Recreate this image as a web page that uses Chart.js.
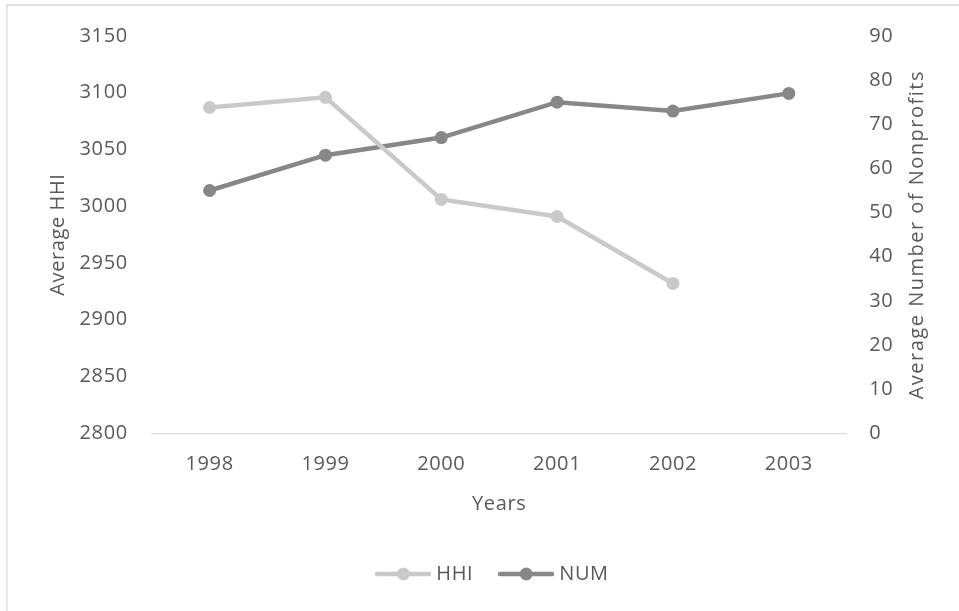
<!DOCTYPE html>
<html>
<head>
<meta charset="utf-8">
<script src="https://cdn.jsdelivr.net/npm/chart.js@4/dist/chart.umd.min.js"></script>
<style>
  html, body { margin: 0; padding: 0; background: #ffffff; }
  #wrap { position: relative; width: 959px; height: 611px; }
</style>
</head>
<body>
<div id="wrap"><canvas id="chart" width="959" height="611"></canvas></div>
<script>
// Years on the horizontal axis
const years = ['1998', '1999', '2000', '2001', '2002', '2003'];
// Average Herfindahl-Hirschman index per year (no value for 2003)
const hhi = [3087, 3096, 3006, 2991, 2932, null];
// Average number of nonprofits per year
const num = [55, 63, 67, 75, 73, 77];
// Axis ranges
const hhiAxis = { min: 2800, max: 3150, step: 50 };
const numAxis = { min: 0, max: 90, step: 10 };

const TEXT = '#595959';
const FONT = "'Open Sans', 'Noto Sans', sans-serif";
const SIZE = 20;
const SPACING = '0.6px';
const HHI_COLOR = '#c9c9c9';
const NUM_COLOR = '#878787';

// Legend swatch: a short line with a dot in the middle
function swatch(color) {
  const c = document.createElement('canvas');
  c.width = 56; c.height = 16;
  const g = c.getContext('2d');
  g.strokeStyle = color; g.lineWidth = 4.5; g.lineCap = 'round';
  g.beginPath(); g.moveTo(2, 8); g.lineTo(54, 8); g.stroke();
  g.fillStyle = color;
  g.beginPath(); g.arc(28, 8, 6.5, 0, Math.PI * 2); g.fill();
  return c;
}

// Slightly wider letter spacing for every label, outer frame lines,
// and the right-hand axis title (reads bottom to top)
const extras = {
  id: 'extras',
  beforeInit(chart) { chart.ctx.letterSpacing = SPACING; },
  beforeUpdate(chart) { chart.ctx.letterSpacing = SPACING; },
  beforeDraw(chart) {
    const ctx = chart.ctx;
    ctx.letterSpacing = SPACING;
    ctx.save();
    ctx.strokeStyle = '#d9d9d9';
    ctx.lineWidth = 1.3;
    ctx.beginPath();
    ctx.moveTo(7, 611); ctx.lineTo(7, 5); ctx.lineTo(959, 5);
    ctx.stroke();
    ctx.restore();
  },
  afterDraw(chart) {
    const ctx = chart.ctx;
    const area = chart.chartArea;
    ctx.save();
    ctx.translate(917, (area.top + area.bottom) / 2);
    ctx.rotate(-Math.PI / 2);
    ctx.fillStyle = TEXT;
    ctx.font = SIZE + 'px ' + FONT;
    ctx.letterSpacing = '1.5px';
    ctx.textAlign = 'center';
    ctx.textBaseline = 'middle';
    ctx.fillText('Average Number of Nonprofits', 0, 0);
    ctx.restore();
  }
};

const plain = v => String(v);

new Chart(document.getElementById('chart'), {
  type: 'line',
  data: {
    labels: years,
    datasets: [
      {
        label: 'HHI', data: hhi, yAxisID: 'y',
        borderColor: HHI_COLOR, backgroundColor: HHI_COLOR,
        borderWidth: 4.5, pointRadius: 6.5, pointHoverRadius: 6.5,
        pointBorderWidth: 0, tension: 0, spanGaps: false
      },
      {
        label: 'NUM', data: num, yAxisID: 'y1',
        borderColor: NUM_COLOR, backgroundColor: NUM_COLOR,
        borderWidth: 4.5, pointRadius: 6.5, pointHoverRadius: 6.5,
        pointBorderWidth: 0, tension: 0
      }
    ]
  },
  options: {
    responsive: false,
    animation: false,
    devicePixelRatio: 1,
    layout: { padding: { left: 40, right: 10, top: 33.5, bottom: 17 } },
    plugins: {
      tooltip: { enabled: false },
      legend: {
        position: 'bottom',
        labels: {
          usePointStyle: true,
          pointStyleWidth: 46,
          padding: 30,
          color: TEXT,
          font: { family: FONT, size: SIZE },
          generateLabels(chart) {
            const items = Chart.defaults.plugins.legend.labels.generateLabels(chart);
            items.forEach(it => {
              it.pointStyle = swatch(chart.data.datasets[it.datasetIndex].borderColor);
            });
            return items;
          }
        }
      }
    },
    scales: {
      x: {
        offset: true,
        grid: { display: false, drawTicks: false },
        border: { display: true, color: '#d9d9d9', width: 1.3 },
        ticks: { color: TEXT, font: { family: FONT, size: SIZE }, padding: 19, maxRotation: 0 },
        title: { display: true, text: 'Years', color: TEXT, font: { family: FONT, size: SIZE }, padding: { top: 4, bottom: 18 } },
        afterFit(scale) { scale.height = 100.7; }
      },
      y: {
        position: 'left',
        min: hhiAxis.min, max: hhiAxis.max,
        grid: { display: false, drawTicks: false },
        border: { display: false },
        ticks: { stepSize: hhiAxis.step, color: TEXT, font: { family: FONT, size: SIZE }, padding: 24, callback: plain },
        title: { display: true, text: 'Average HHI', color: TEXT, font: { family: FONT, size: SIZE }, padding: { top: 6, bottom: 0 } },
        afterFit(scale) { scale.width = 111.7; }
      },
      y1: {
        position: 'right',
        min: numAxis.min, max: numAxis.max,
        grid: { display: false, drawTicks: false },
        border: { display: false },
        ticks: { stepSize: numAxis.step, color: TEXT, font: { family: FONT, size: SIZE }, padding: 22.6, callback: plain },
        afterFit(scale) { scale.width = 102.3; }
      }
    }
  },
  plugins: [extras]
});
</script>
</body>
</html>
